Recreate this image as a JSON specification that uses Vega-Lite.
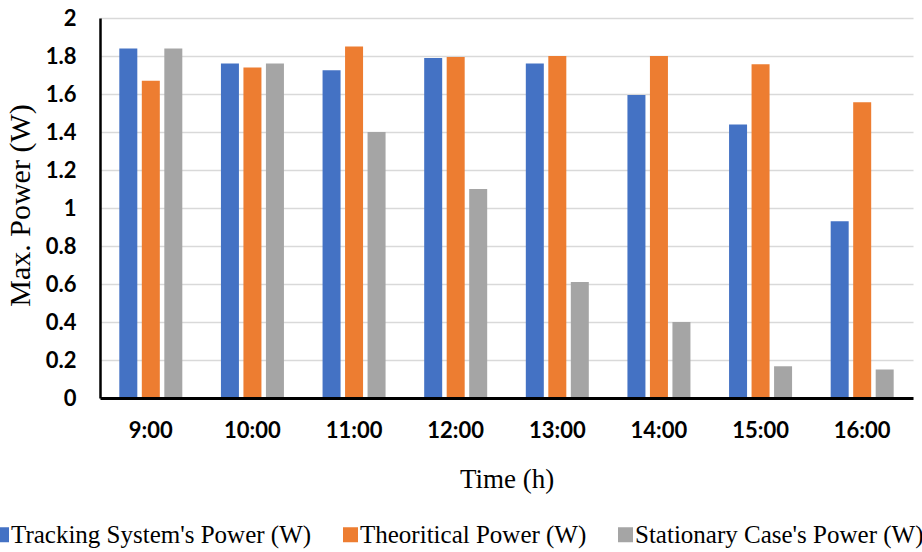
{
  "$schema": "https://vega.github.io/schema/vega-lite/v6.json",
  "width": 813,
  "height": 380,
  "autosize": {"type": "none"},
  "padding": {"left": 100, "top": 18, "right": 9, "bottom": 154},
  "background": "white",
  "config": {"view": {"stroke": null}},
  "data": {
    "values": [
      {"time": "9:00", "series": "Tracking System's Power (W)", "power": 1.84},
      {"time": "9:00", "series": "Theoritical Power (W)", "power": 1.67},
      {"time": "9:00", "series": "Stationary Case's Power (W)", "power": 1.84},
      {"time": "10:00", "series": "Tracking System's Power (W)", "power": 1.76},
      {"time": "10:00", "series": "Theoritical Power (W)", "power": 1.74},
      {"time": "10:00", "series": "Stationary Case's Power (W)", "power": 1.76},
      {"time": "11:00", "series": "Tracking System's Power (W)", "power": 1.725},
      {"time": "11:00", "series": "Theoritical Power (W)", "power": 1.85},
      {"time": "11:00", "series": "Stationary Case's Power (W)", "power": 1.40},
      {"time": "12:00", "series": "Tracking System's Power (W)", "power": 1.79},
      {"time": "12:00", "series": "Theoritical Power (W)", "power": 1.795},
      {"time": "12:00", "series": "Stationary Case's Power (W)", "power": 1.10},
      {"time": "13:00", "series": "Tracking System's Power (W)", "power": 1.76},
      {"time": "13:00", "series": "Theoritical Power (W)", "power": 1.80},
      {"time": "13:00", "series": "Stationary Case's Power (W)", "power": 0.61},
      {"time": "14:00", "series": "Tracking System's Power (W)", "power": 1.595},
      {"time": "14:00", "series": "Theoritical Power (W)", "power": 1.80},
      {"time": "14:00", "series": "Stationary Case's Power (W)", "power": 0.40},
      {"time": "15:00", "series": "Tracking System's Power (W)", "power": 1.44},
      {"time": "15:00", "series": "Theoritical Power (W)", "power": 1.757},
      {"time": "15:00", "series": "Stationary Case's Power (W)", "power": 0.167},
      {"time": "16:00", "series": "Tracking System's Power (W)", "power": 0.93},
      {"time": "16:00", "series": "Theoritical Power (W)", "power": 1.557},
      {"time": "16:00", "series": "Stationary Case's Power (W)", "power": 0.15}
    ]
  },
  "mark": {"type": "bar"},
  "encoding": {
    "x": {
      "field": "time",
      "type": "nominal",
      "sort": null,
      "scale": {"paddingInner": 0.38, "paddingOuter": 0.19},
      "axis": {
        "zindex": 1,
        "domain": true,
        "domainColor": "black",
        "domainWidth": 3,
        "ticks": false,
        "tickSize": 0,
        "grid": false,
        "labelAngle": 0,
        "labelFont": "Lato",
        "labelFontWeight": "bold",
        "labelFontSize": 22,
        "labelColor": "black",
        "labelPadding": 22,
        "title": "Time (h)",
        "titleFont": "Liberation Serif",
        "titleFontSize": 27,
        "titleFontWeight": "normal",
        "titleColor": "black",
        "titleBaseline": "alphabetic",
        "titleY": 89
      }
    },
    "xOffset": {
      "field": "series",
      "type": "nominal",
      "sort": ["Tracking System's Power (W)", "Theoritical Power (W)", "Stationary Case's Power (W)"],
      "scale": {"paddingInner": 0.2, "paddingOuter": 0}
    },
    "y": {
      "field": "power",
      "type": "quantitative",
      "scale": {"domain": [0, 2], "nice": false},
      "axis": {
        "values": [0, 0.2, 0.4, 0.6, 0.8, 1, 1.2, 1.4, 1.6, 1.8, 2],
        "format": "~g",
        "domain": true,
        "domainColor": "black",
        "domainWidth": 2.5,
        "ticks": false,
        "tickSize": 0,
        "grid": true,
        "gridColor": "#D9D9D9",
        "gridWidth": 1.5,
        "labelFont": "Lato",
        "labelFontWeight": "bold",
        "labelFontSize": 22,
        "labelColor": "black",
        "labelPadding": 24,
        "title": "Max. Power (W)",
        "titleFont": "Liberation Serif",
        "titleFontSize": 30,
        "titleFontWeight": "normal",
        "titleColor": "black",
        "titleX": -65,
        "titleY": 187,
        "titleBaseline": "bottom"
      }
    },
    "color": {
      "field": "series",
      "type": "nominal",
      "sort": ["Tracking System's Power (W)", "Theoritical Power (W)", "Stationary Case's Power (W)"],
      "scale": {
        "domain": ["Tracking System's Power (W)", "Theoritical Power (W)", "Stationary Case's Power (W)"],
        "range": ["#4472C4", "#ED7D31", "#A5A5A5"]
      },
      "legend": {
        "orient": "none",
        "legendX": -111,
        "legendY": 504,
        "direction": "horizontal",
        "title": null,
        "symbolType": "square",
        "symbolSize": 225,
        "symbolStrokeWidth": 0,
        "labelFont": "Liberation Serif",
        "labelFontSize": 25,
        "labelColor": "black",
        "labelOffset": -3,
        "labelLimit": 0,
        "columnPadding": 26
      }
    }
  }
}
